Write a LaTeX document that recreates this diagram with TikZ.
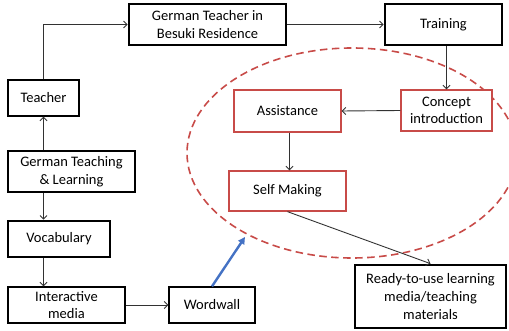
\documentclass[tikz,border=0pt]{standalone}
\usepackage{fontspec}
\setmainfont{Carlito}
\usetikzlibrary{arrows.meta}
\definecolor{redc}{RGB}{200,75,72}
\definecolor{bluec}{RGB}{68,114,196}
\definecolor{darkc}{RGB}{50,50,50}
\begin{document}
\begin{tikzpicture}[x=1pt,y=-1pt,
  box/.style={draw=black, line width=1.3pt, fill=white, align=center, inner sep=0pt,
    font=\fontsize{14.5}{17.7}\selectfont},
  thickbox/.style={box, line width=2.7pt},
  redbox/.style={box, draw=redc, line width=1.3pt},
  conn/.style={draw=darkc, line width=0.9pt, -{Straight Barb[length=3.5pt,width=7pt]}},
  bluearrow/.style={draw=bluec, line width=2.4pt, -{Triangle[length=7pt,width=7pt]}},
  dashell/.style={draw=redc, line width=1.6pt, dash pattern=on 7.5pt off 4.5pt},
]
\useasboundingbox (0,0) rectangle (509,331);

% dashed ellipse
\draw[dashell] (352,153) ellipse [x radius=165, y radius=105];

% nodes
\node[thickbox, minimum width=157pt, minimum height=41pt] (gtb) at (207.5,24.5) {German Teacher in\\Besuki Residence};
\node[thickbox, minimum width=117pt, minimum height=41pt] (train) at (443.5,24.5) {Training};
\node[box, minimum width=71pt, minimum height=36pt] (teacher) at (43.5,98) {Teacher};
\node[box, minimum width=127pt, minimum height=41pt] (gtl) at (71.5,171.5) {German Teaching\\\& Learning};
\node[thickbox, minimum width=102pt, minimum height=36pt] (vocab) at (59,239) {Vocabulary};
\node[box, minimum width=117pt, minimum height=36pt] (inter) at (66.5,305) {Interactive\\media};
\node[box, minimum width=86pt, minimum height=36pt] (ww) at (212,305) {Wordwall};
\node[thickbox, minimum width=151pt, minimum height=63pt] (ready) at (430.5,296.5) {Ready-to-use learning\\media/teaching\\materials};
\node[redbox, minimum width=107pt, minimum height=42pt] (assist) at (287.5,111) {Assistance};
\node[redbox, minimum width=91pt, minimum height=41pt] (concept) at (446.5,110.5) {Concept\\introduction};
\node[redbox, minimum width=117pt, minimum height=40pt] (self) at (287.5,191) {Self Making};

\coordinate (bluetip) at (245,237);

% connectors
\draw[conn] (teacher.north) |- (gtb.west);
\draw[conn] (gtb.east) -- (train.west);
\draw[conn] (concept.north |- train.south) -- (concept.north);
\draw[conn] (concept.west) -- (assist.east);
\draw[conn] ([xshift=2pt]assist.south) -- ([xshift=2pt]self.north);
\draw[conn] (self.south) -- (ready.north);
\draw[conn] (teacher.south |- gtl.north) -- (teacher.south);
\draw[conn] (teacher.south |- gtl.south) -- (teacher.south |- vocab.north);
\draw[conn] (teacher.south |- vocab.south) -- (teacher.south |- inter.north);
\draw[conn] (inter.east) -- (ww.west);
\draw[bluearrow] (ww.north) -- (bluetip);
\end{tikzpicture}
\end{document}
